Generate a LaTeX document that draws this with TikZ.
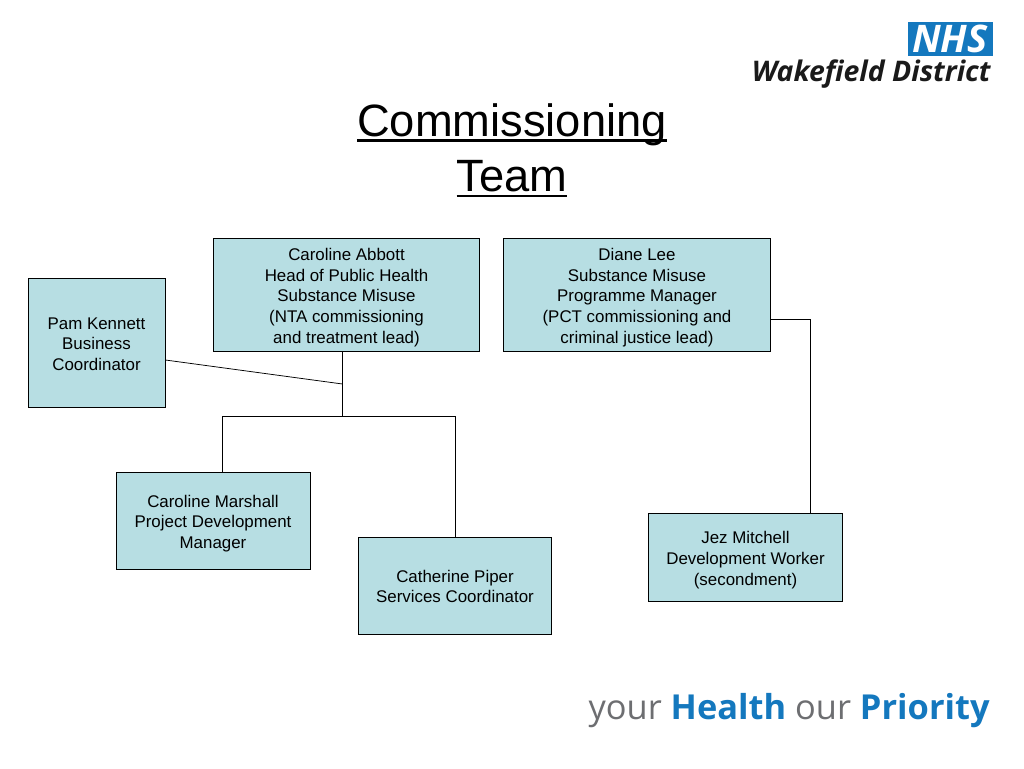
\documentclass[tikz,border=0pt]{standalone}
\usepackage{fontspec}
\setmainfont{Liberation Sans}
\newfontfamily\logofont{Open Sans}
\definecolor{boxfill}{HTML}{B7DEE3}
\definecolor{nhsblue}{HTML}{1478BE}
\definecolor{wakegrey}{HTML}{1A1A1A}
\definecolor{yourgrey}{HTML}{6D6E71}
\newcommand{\titleline}[1]{\setbox0\hbox{#1}\rlap{\rule[-5.5pt]{\wd0}{2.6pt}}#1}
\begin{document}
\begin{tikzpicture}[x=1pt,y=-1pt,line width=0.75pt]
            %
            % `teambox' is used for the people, `title' for the heading.
            \tikzstyle{teambox} = [draw=black,fill=boxfill,align=center,inner sep=0pt,font=\fontsize{16.9}{20.75}\selectfont]
            \tikzstyle{title} = [align=center,font=\fontsize{45.3}{55.5}\selectfont]
            \useasboundingbox (0,0) rectangle (1024,768);
            %
            % Heading
            \node[title] (heading) at (512,150.5) {\titleline{Commissioning}\\\titleline{Team}};
            %
            % Logos
            \node[fill=nhsblue,text=white,minimum width=85,minimum height=34,inner sep=0pt,font=\logofont\bfseries\itshape\fontsize{38}{38}\selectfont] (nhs) at (950,39) {NHS};
            \node[text=wakegrey,inner sep=0pt,anchor=east,font=\logofont\bfseries\itshape\fontsize{28.4}{28.4}\selectfont] (district) at (991,74) {Wakefield District};
            \node[inner sep=0pt,anchor=east,font=\logofont\fontsize{34.4}{34.4}\selectfont] (slogan) at (990,711) {\textcolor{yourgrey}{your} \textcolor{nhsblue}{\textbf{Health}} \textcolor{yourgrey}{our} \textcolor{nhsblue}{\textbf{Priority}}};
            %
            % Boxes
            \node[teambox,minimum width=266,minimum height=113] (abbott) at (346.5,295) {\rule{0pt}{17pt}Caroline Abbott\\Head of Public Health\\Substance Misuse\\(NTA commissioning\\and treatment lead)};
            \node[teambox,minimum width=267,minimum height=113] (lee) at (637,295) {\rule{0pt}{17pt}Diane Lee\\Substance Misuse\\Programme Manager\\(PCT commissioning and\\criminal justice lead)};
            \node[teambox,minimum width=137,minimum height=129] (kennett) at (96.5,343) {\rule{0pt}{14pt}Pam Kennett\\Business\\Coordinator};
            \node[teambox,minimum width=194,minimum height=97] (marshall) at (213,521) {\rule{0pt}{17pt}Caroline Marshall\\Project Development\\Manager};
            \node[teambox,minimum width=193,minimum height=97] (piper) at (455,585.5) {\rule{0pt}{14pt}Catherine Piper\\Services Coordinator};
            \node[teambox,minimum width=194,minimum height=88] (mitchell) at (745.5,557) {\rule{0pt}{18pt}Jez Mitchell\\Development Worker\\(secondment)};
            %
            % Joints
            \coordinate (join) at (342.5,384);
            \coordinate (split) at (342.5,416);
            %
            % Lines
            \draw[-] (abbott.south -| join) -- (split);
            \draw[-] (kennett.east |- 0,360) -- (join);
            \draw[-] (split) -| (marshall.north -| 222,0);
            \draw[-] (split) -| (piper.north);
            \draw[-] (lee.east |- 0,319) -| (mitchell.north -| 810,0);
        \end{tikzpicture}
\end{document}
